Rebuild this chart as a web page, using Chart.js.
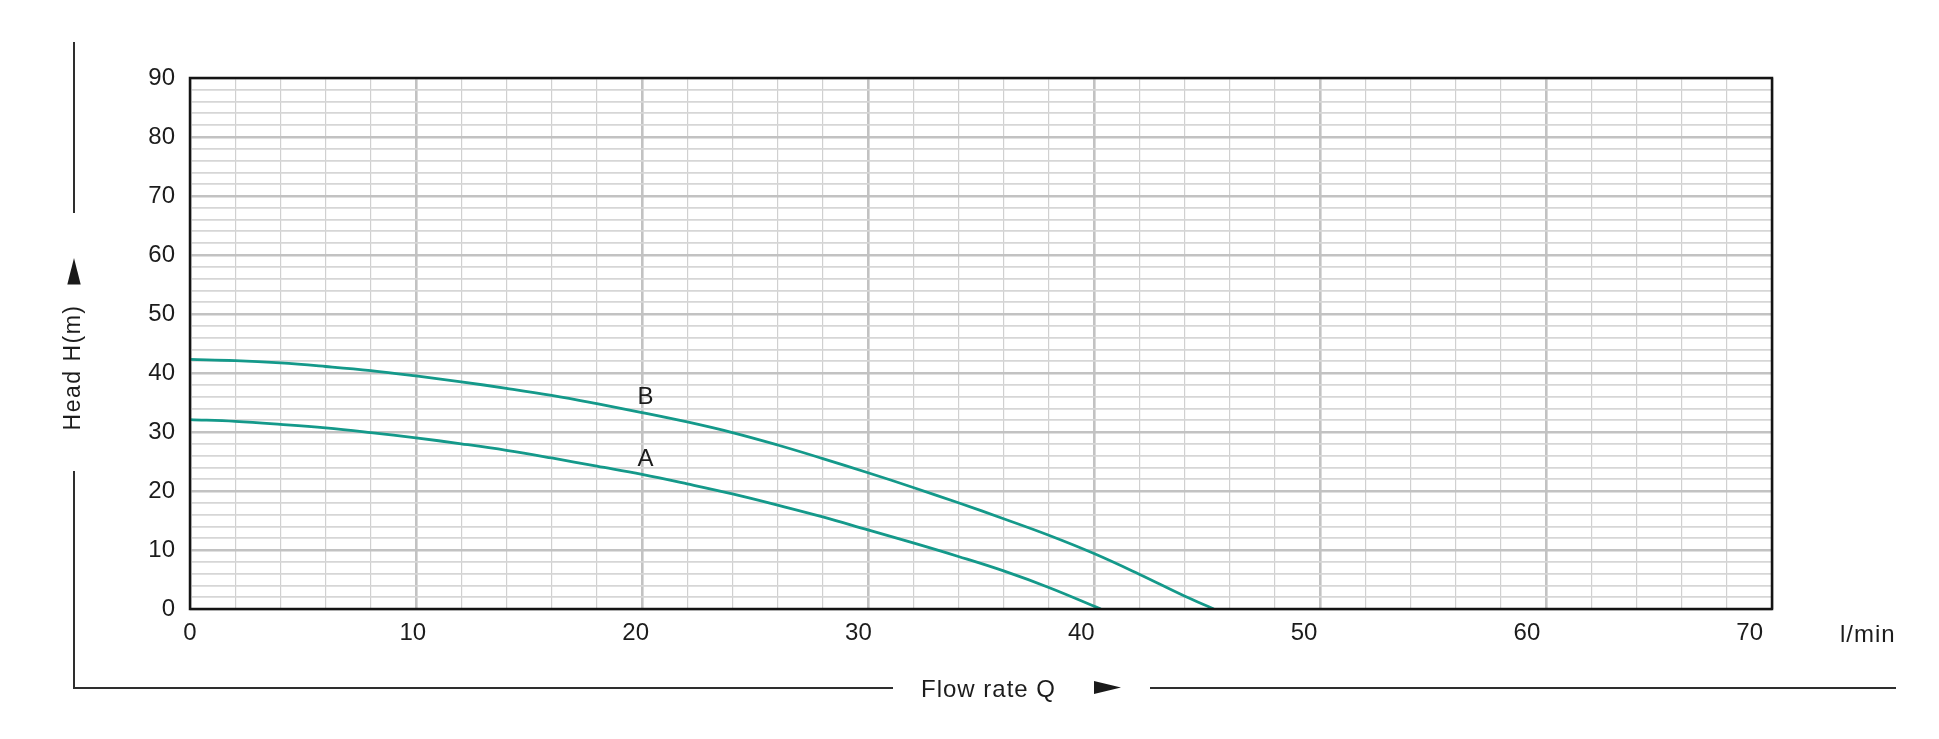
<!DOCTYPE html>
<html>
<head>
<meta charset="utf-8">
<script src="https://cdn.jsdelivr.net/npm/chart.js@4.4.1/dist/chart.umd.min.js"></script>
<style>
html,body{margin:0;padding:0;background:#fff;}
canvas{display:block;}
</style>
</head>
<body>
<canvas id="c" width="1939" height="739" style="width:1939px;height:739px"></canvas>
<script>
// ---- data ----
const flowA = [0, 2, 4, 6, 8, 10, 12, 14, 16, 18, 20, 22, 24, 26, 28, 30, 32, 34, 36, 38, 40.3];
const headA = [32.1, 31.8, 31.3, 30.7, 29.9, 29.0, 28.0, 26.9, 25.6, 24.2, 22.8, 21.2, 19.5, 17.6, 15.6, 13.4, 11.2, 8.9, 6.45, 3.65, 0];
const flowB = [0, 2, 4, 6, 8, 10, 12, 14, 16, 18, 20, 22, 24, 26, 28, 30, 32, 34, 36, 38, 40, 42, 44, 45.3];
const headB = [42.3, 42.1, 41.7, 41.1, 40.4, 39.5, 38.5, 37.4, 36.2, 34.8, 33.3, 31.7, 29.9, 27.8, 25.5, 23.1, 20.6, 18.0, 15.3, 12.5, 9.4, 5.9, 2.2, 0];
const xTickLabels = [0, 10, 20, 30, 40, 50, 60, 70];
const yTickLabels = [0, 10, 20, 30, 40, 50, 60, 70, 80, 90];
const curveNames = ['A', 'B'];
const curveLabelFlow = [20.15, 20.15];
const curveLabelHead = [25.3, 35.9];
const xUnit = 'l/min';
const xTitle = 'Flow rate Q';
const yTitle = 'Head H(m)';

const FONT = "'Liberation Sans', Arial, sans-serif";
const TEAL = '#14998a';
const TXT = '#1c1c1c';

function pts(xs, ys) { return xs.map((x, i) => ({ x: x, y: ys[i] })); }

const deco = {
  id: 'deco',
  afterDraw(chart) {
    const ctx = chart.ctx, a = chart.chartArea;
    const xs = chart.scales.x, ys = chart.scales.y;
    ctx.save();
    // plot frame
    ctx.strokeStyle = '#141414';
    ctx.lineWidth = 2.5;
    ctx.strokeRect(a.left, a.top, a.right - a.left, a.bottom - a.top);
    // curve labels
    ctx.fillStyle = TXT;
    ctx.font = '24px ' + FONT;
    ctx.textAlign = 'center';
    ctx.textBaseline = 'middle';
    curveNames.forEach((n, i) => {
      ctx.fillText(n, xs.getPixelForValue(curveLabelFlow[i]), ys.getPixelForValue(curveLabelHead[i]));
    });
    // outer frame lines
    ctx.strokeStyle = '#2e2e2e';
    ctx.lineWidth = 2;
    ctx.beginPath();
    ctx.moveTo(74, 42); ctx.lineTo(74, 213);
    ctx.moveTo(74, 471); ctx.lineTo(74, 688); ctx.lineTo(893, 688);
    ctx.moveTo(1150, 688); ctx.lineTo(1896, 688);
    ctx.stroke();
    // arrows
    ctx.fillStyle = '#1a1a1a';
    ctx.beginPath();
    ctx.moveTo(74, 258); ctx.lineTo(80.7, 284.5); ctx.lineTo(67.3, 284.5); ctx.closePath(); ctx.fill();
    ctx.beginPath();
    ctx.moveTo(1121, 687.5); ctx.lineTo(1094, 681); ctx.lineTo(1094, 694); ctx.closePath(); ctx.fill();
    // axis titles
    ctx.fillStyle = TXT;
    ctx.textBaseline = 'middle';
    ctx.font = '23px ' + FONT;
    ctx.save();
    ctx.translate(74, 367.5);
    ctx.rotate(-Math.PI / 2);
    ctx.textAlign = 'center';
    try { ctx.letterSpacing = '1.5px'; } catch (e) {}
    ctx.fillText(yTitle, 0, 0);
    ctx.restore();
    ctx.font = '24px ' + FONT;
    ctx.textAlign = 'left';
    ctx.textBaseline = 'alphabetic';
    try { ctx.letterSpacing = '1px'; } catch (e) {}
    ctx.fillText(xTitle, 921, 697);
    ctx.fillText(xUnit, 1840, 642);
    ctx.restore();
  }
};

const majorColor = '#c2c2c2', minorColor = '#d0d0d0';

new Chart(document.getElementById('c'), {
  type: 'line',
  data: {
    datasets: [
      { label: 'A', data: pts(flowA, headA), borderColor: TEAL, borderWidth: 2.8, pointRadius: 0, tension: 0.4, fill: false, xAxisID: 'x', yAxisID: 'y' },
      { label: 'B', data: pts(flowB, headB), borderColor: TEAL, borderWidth: 2.8, pointRadius: 0, tension: 0.4, fill: false, xAxisID: 'x', yAxisID: 'y' }
    ]
  },
  options: {
    responsive: false,
    animation: false,
    devicePixelRatio: 1,
    layout: { padding: { left: 0, top: 78, right: 167, bottom: 70 } },
    plugins: { legend: { display: false }, tooltip: { enabled: false } },
    scales: {
      x: {
        type: 'linear', position: 'bottom', min: 0, max: 70,
        ticks: { display: false, stepSize: 2, autoSkip: false },
        grid: {
          drawTicks: false,
          color: c => (c.tick && Math.abs(c.tick.value % 10) < 1e-6) ? majorColor : minorColor,
          lineWidth: c => (c.tick && Math.abs(c.tick.value % 10) < 1e-6) ? 2.6 : 1.2
        },
        border: { display: false },
        afterFit: s => { s.height = 0; }
      },
      x2: {
        type: 'linear', position: 'bottom', min: 0, max: 71.0,
        afterBuildTicks: s => { s.ticks = xTickLabels.map(v => ({ value: v })); },
        ticks: { autoSkip: false, maxRotation: 0, padding: 10, color: TXT, font: { family: FONT, size: 24 } },
        grid: { display: false, drawTicks: false },
        border: { display: false },
        afterFit: s => { s.height = 60; }
      },
      y: {
        type: 'linear', position: 'left', min: 0, max: 90,
        ticks: {
          stepSize: 2, autoSkip: false, padding: 15, color: TXT, font: { family: FONT, size: 24 },
          callback: v => yTickLabels.includes(v) ? String(v) : ''
        },
        grid: {
          drawTicks: false,
          color: c => (c.tick && Math.abs(c.tick.value % 10) < 1e-6) ? majorColor : '#d6d6d6',
          lineWidth: c => (c.tick && Math.abs(c.tick.value % 10) < 1e-6) ? 2.6 : 1.8
        },
        border: { display: false },
        afterFit: s => { s.width = 190; }
      }
    }
  },
  plugins: [deco]
});
</script>
</body>
</html>
